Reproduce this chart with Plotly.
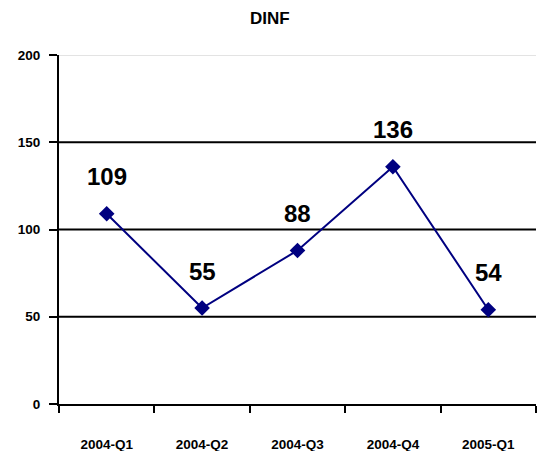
import plotly.graph_objects as go

categories = ["2004-Q1", "2004-Q2", "2004-Q3", "2004-Q4", "2005-Q1"]
values = [109, 55, 88, 136, 54]
y_ticks = [0, 50, 100, 150, 200]
grid_black = [50, 100, 150]
grid_gray = [200]

FONT = "Liberation Sans, Arial, sans-serif"

fig = go.Figure()
fig.add_trace(go.Scatter(
    x=categories, y=values, mode="lines+markers",
    line=dict(color="#000080", width=2),
    marker=dict(symbol="diamond", size=12, color="#000080"),
    showlegend=False, cliponaxis=False,
))

for c, v in zip(categories, values):
    fig.add_annotation(x=c, y=v, text=f"<b>{v}</b>", showarrow=False,
                       yshift=37, font=dict(family=FONT, size=24, color="black"))

fig.add_annotation(xref="paper", yref="paper", x=0.442, y=1, yshift=37,
                   text="<b>DINF</b>", showarrow=False, xanchor="center", yanchor="middle",
                   font=dict(family=FONT, size=17, color="black"))

shapes = []
for g in grid_black:
    shapes.append(dict(type="line", xref="paper", yref="y", x0=0, x1=1, y0=g, y1=g,
                       line=dict(color="black", width=2), layer="below"))
for g in grid_gray:
    shapes.append(dict(type="line", xref="paper", yref="y", x0=0, x1=1, y0=g, y1=g,
                       line=dict(color="#c8c8c8", width=1), layer="below"))

fig.update_layout(
    width=539, height=443,
    margin=dict(l=51, r=11, t=47, b=47, autoexpand=False),
    paper_bgcolor="white", plot_bgcolor="white",
    shapes=shapes,
    xaxis=dict(type="category", tickson="boundaries", ticks="outside", ticklen=7,
               tickwidth=2, tickcolor="black", showline=True, linecolor="black",
               linewidth=2, showgrid=False, ticklabelstandoff=27, automargin=False,
               tickfont=dict(family=FONT, size=13.5, color="black", weight="bold"),
               range=[-0.5, 4.5]),
    yaxis=dict(range=[0, 200], tickvals=y_ticks, ticks="outside", ticklen=8,
               tickwidth=2, tickcolor="black", showline=True, linecolor="black",
               linewidth=2, showgrid=False, zeroline=False, ticklabelstandoff=6,
               automargin=False,
               tickfont=dict(family=FONT, size=13.5, color="black", weight="bold")),
)

fig.write_html("out.html")
